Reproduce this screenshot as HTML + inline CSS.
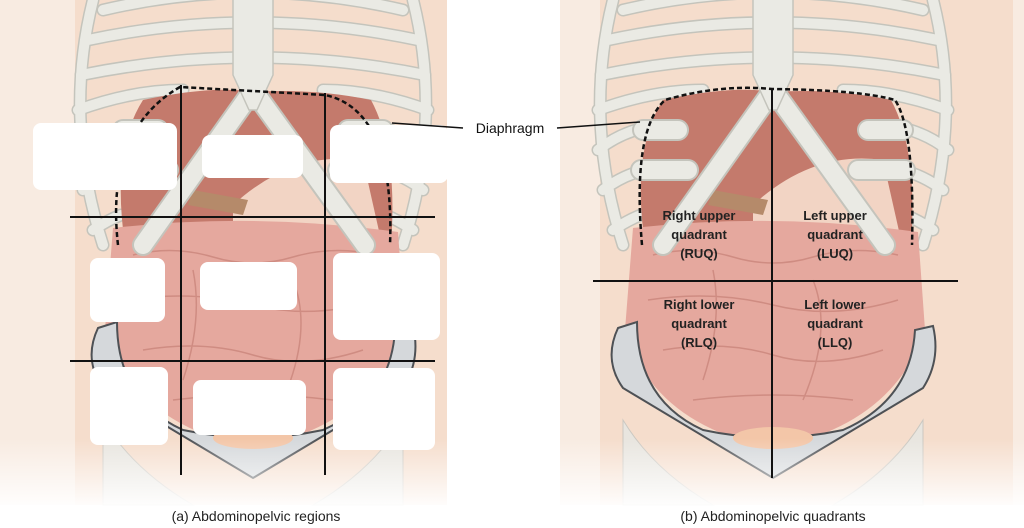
<!DOCTYPE html>
<html><head><meta charset="utf-8"><style>
html,body{margin:0;padding:0;background:#fff;}
svg{display:block;font-family:"Liberation Sans",sans-serif;}
</style></head><body>
<svg width="1024" height="528" viewBox="0 0 1024 528" xmlns="http://www.w3.org/2000/svg">
<defs>
<linearGradient id="fade" x1="0" y1="0" x2="0" y2="1">
<stop offset="0" stop-color="#fff" stop-opacity="0"/><stop offset="0.86" stop-color="#fff" stop-opacity="0"/><stop offset="1" stop-color="#fff" stop-opacity="1"/>
</linearGradient>
<g id="torso">
<g fill="none" stroke-linecap="round">
<g stroke="#c4c4bc" stroke-width="13">
<path d="M-150 10 Q0 -25 150 10"/>
<path d="M-165 40 Q0 5 165 40"/>
<path d="M-172 75 Q0 40 172 75"/>
<path d="M-175 110 Q-120 90 -70 90 M70 90 Q120 90 175 110"/>
<path d="M-175 150 Q-150 130 -115 125 M115 125 Q150 130 175 150"/>
<path d="M-170 190 Q-150 175 -128 170 M128 170 Q150 175 170 190"/>
<path d="M-160 230 Q-145 220 -132 215 M132 215 Q145 220 160 230"/>
<path d="M-160 0 Q-190 120 -150 245 M160 0 Q190 120 150 245"/>
</g>
<g stroke="#eaeae4" stroke-width="10">
<path d="M-150 10 Q0 -25 150 10"/>
<path d="M-165 40 Q0 5 165 40"/>
<path d="M-172 75 Q0 40 172 75"/>
<path d="M-175 110 Q-120 90 -70 90 M70 90 Q120 90 175 110"/>
<path d="M-175 150 Q-150 130 -115 125 M115 125 Q150 130 175 150"/>
<path d="M-170 190 Q-150 175 -128 170 M128 170 Q150 175 170 190"/>
<path d="M-160 230 Q-145 220 -132 215 M132 215 Q145 220 160 230"/>
<path d="M-160 0 Q-190 120 -150 245 M160 0 Q190 120 150 245"/>
</g>
</g>
<path d="M-128 245 Q-142 150 -110 100 Q-40 85 0 92 Q60 88 118 100 Q145 150 138 245 Z" fill="#c47a6c"/>
<path d="M-20 205 Q40 150 110 160 L128 240 Q40 245 -20 240Z" fill="#f2d4c4"/>
<path d="M-60 190 L-5 200 L-10 215 L-65 205Z" fill="#b58a6a"/>
<path d="M-140 228 Q0 212 145 232 L152 330 Q120 425 0 448 Q-120 425 -148 330Z" fill="#e5a89e"/>
<path d="M-120 255 Q-80 245 -40 257 T40 257 T125 255 M-125 300 Q-60 290 0 305 T125 300 M-110 350 Q-50 340 0 355 T110 350 M-80 400 Q0 390 80 400 M-60 270 Q-50 320 -70 380 M40 280 Q60 330 30 400" fill="none" stroke="#cf8c82" stroke-width="1.5"/>
<g fill="none" stroke-linecap="round">
<path d="M0 90 L-110 245 M0 90 L112 245 M-130 130 L-95 130 M-132 170 L-85 170 M130 130 L95 130 M132 170 L85 170" stroke="#c4c4bc" stroke-width="22"/>
<path d="M0 90 L-110 245 M0 90 L112 245 M-130 130 L-95 130 M-132 170 L-85 170 M130 130 L95 130 M132 170 L85 170" stroke="#eaeae4" stroke-width="18"/>
</g>
<path d="M-20 -5 L20 -5 L20 75 L4 110 L-4 110 L-20 75Z" fill="#eaeae4" stroke="#c4c4bc" stroke-width="1.5"/>
<path d="M-150 420 Q-120 470 -60 505 L-150 505Z M150 420 Q120 470 60 505 L150 505Z" fill="#e8e5df" stroke="#cbc8c1"/>
<path d="M-155 328 Q-170 360 -150 388 L0 478 L150 388 Q168 360 160 326 L142 330 Q138 400 70 430 Q0 445 -70 430 Q-136 400 -136 322Z" fill="#d5d8db" stroke="#4e5155" stroke-width="2"/>
<ellipse cx="0" cy="438" rx="40" ry="11" fill="#f3c6a8"/>
</g>
</defs>
<rect width="1024" height="528" fill="#fff"/>
<rect x="0" y="0" width="75" height="505" fill="#f8ebe1"/>
<rect x="75" y="0" width="372" height="505" fill="#f5ddcc"/>
<rect x="560" y="0" width="40" height="505" fill="#f8ebe1"/>
<rect x="600" y="0" width="413" height="505" fill="#f5ddcc"/>
<rect x="1013" y="0" width="11" height="505" fill="#f8ebe1"/>
<g transform="translate(253,0)"><use href="#torso"/></g>
<g transform="translate(773,0)"><use href="#torso"/></g>
<rect x="0" y="0" width="1024" height="510" fill="url(#fade)"/>

<path d="M118 245 Q105 130 180 87 L325 95 Q395 110 390 245" fill="none" stroke="#111" stroke-width="2.5" stroke-dasharray="5,3"/>
<line x1="181" y1="85" x2="181" y2="475" stroke="#111" stroke-width="2"/>
<line x1="325" y1="93" x2="325" y2="475" stroke="#111" stroke-width="2"/>
<line x1="70" y1="217" x2="435" y2="217" stroke="#111" stroke-width="2"/>
<line x1="70" y1="361" x2="435" y2="361" stroke="#111" stroke-width="2"/>
<g fill="#fff">
<rect x="33" y="123" width="144" height="67" rx="8"/>
<rect x="202" y="135" width="101" height="43" rx="8"/>
<rect x="330" y="125" width="118" height="58" rx="8"/>
<rect x="90" y="258" width="75" height="64" rx="8"/>
<rect x="200" y="262" width="97" height="48" rx="8"/>
<rect x="333" y="253" width="107" height="87" rx="8"/>
<rect x="90" y="367" width="78" height="78" rx="8"/>
<rect x="193" y="380" width="113" height="55" rx="8"/>
<rect x="333" y="368" width="102" height="82" rx="8"/>
</g>

<path d="M642 245 Q632 130 665 100 Q720 84 772 89 Q860 90 895 100 Q915 130 912 245" fill="none" stroke="#111" stroke-width="2.5" stroke-dasharray="5,3"/>
<line x1="772" y1="89" x2="772" y2="478" stroke="#111" stroke-width="2"/>
<line x1="593" y1="281" x2="958" y2="281" stroke="#111" stroke-width="2"/>

<line x1="392" y1="123" x2="463" y2="128" stroke="#111" stroke-width="1.5"/>
<line x1="557" y1="128" x2="640" y2="122" stroke="#111" stroke-width="1.5"/>
<text x="510" y="133" font-size="14" text-anchor="middle" fill="#111">Diaphragm</text>

<g font-size="13" font-weight="bold" fill="#222" text-anchor="middle">
<text x="699" y="220">Right upper</text><text x="699" y="239">quadrant</text><text x="699" y="258">(RUQ)</text>
<text x="835" y="220">Left upper</text><text x="835" y="239">quadrant</text><text x="835" y="258">(LUQ)</text>
<text x="699" y="309">Right lower</text><text x="699" y="328">quadrant</text><text x="699" y="347">(RLQ)</text>
<text x="835" y="309">Left lower</text><text x="835" y="328">quadrant</text><text x="835" y="347">(LLQ)</text>
</g>

<text x="256" y="521" font-size="14" text-anchor="middle" fill="#222">(a) Abdominopelvic regions</text>
<text x="773" y="521" font-size="14" text-anchor="middle" fill="#222">(b) Abdominopelvic quadrants</text>
</svg>
</body></html>
